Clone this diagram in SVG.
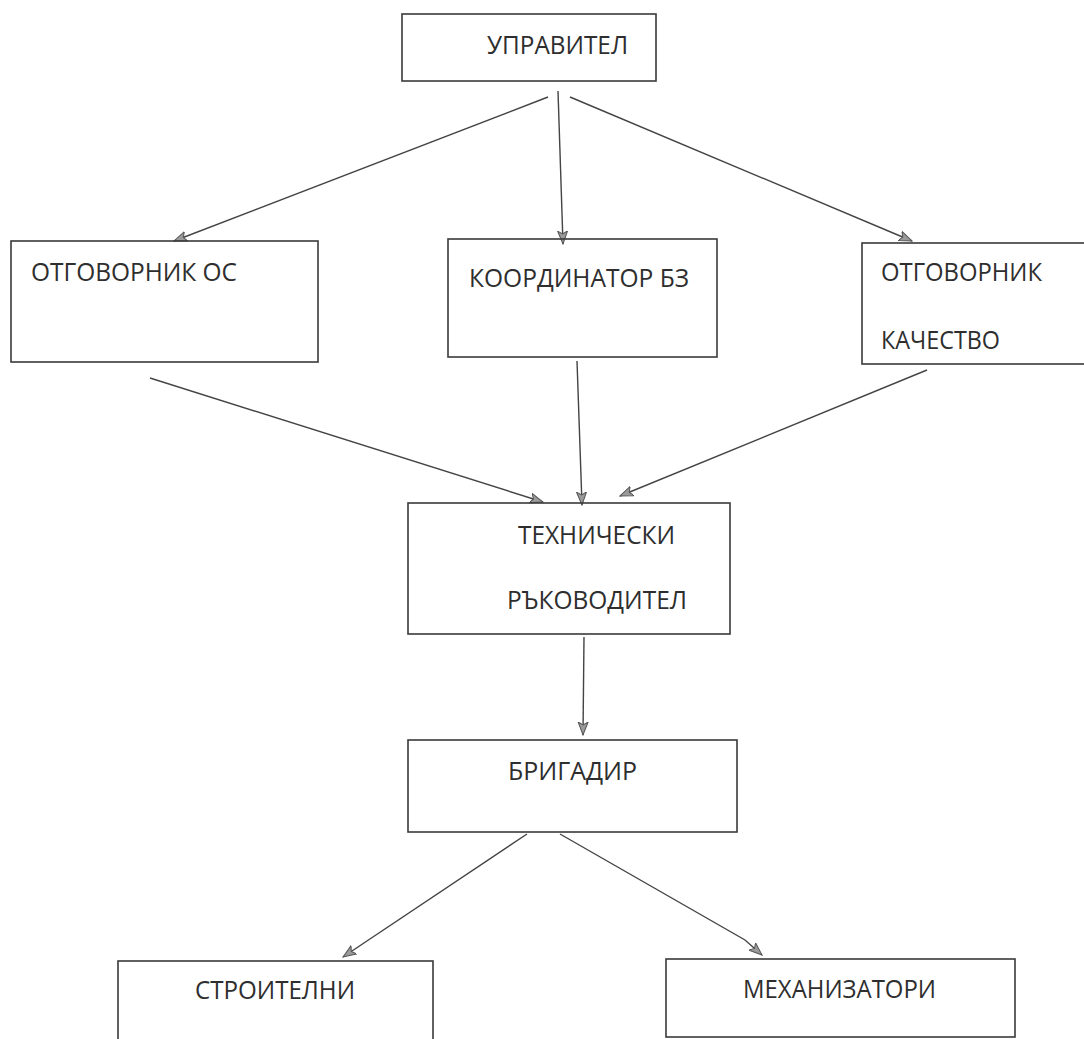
<svg xmlns="http://www.w3.org/2000/svg" width="1084" height="1039" viewBox="0 0 1084 1039">
<style>
.box{fill:none;stroke:#3a3a3a;stroke-width:1.6}
.lbl{font-family:"Open Sans","Noto Sans","Liberation Sans",sans-serif;font-size:26px;fill:#2e2e2e}
.con{fill:none;stroke:#444;stroke-width:1.4;marker-end:url(#ah)}
</style>
<defs>
<marker id="ah" markerUnits="userSpaceOnUse" markerWidth="14" markerHeight="12" refX="13" refY="5" orient="auto" viewBox="0 0 14 10">
<path d="M0,0 L13,5 L0,10 L3,5 z" fill="#9a9a9a" stroke="#555" stroke-width="1"/>
</marker>
</defs>
<rect width="1084" height="1039" fill="#ffffff"/>
<g id="connectors">
<line class="con" x1="548" y1="97" x2="174" y2="241"/>
<line class="con" x1="558" y1="91" x2="563" y2="244"/>
<line class="con" x1="570" y1="97" x2="912" y2="241"/>
<line class="con" x1="150" y1="378" x2="543" y2="502"/>
<line class="con" x1="577" y1="361" x2="582" y2="505"/>
<line class="con" x1="927" y1="370" x2="620" y2="496"/>
<line class="con" x1="584" y1="637" x2="583" y2="735"/>
<line class="con" x1="527" y1="834" x2="343" y2="957"/>
<path class="con" d="M560,834 L745,940 L762,955"/>
</g>
<g id="node-upravitel">
<rect class="box" x="402" y="14" width="254" height="67"/>
<text class="lbl" x="487" y="54" textLength="141" lengthAdjust="spacingAndGlyphs">УПРАВИТЕЛ</text>
</g>
<g id="node-otgovornik-os">
<rect class="box" x="11" y="241" width="307" height="121"/>
<text class="lbl" x="31" y="281" textLength="206" lengthAdjust="spacingAndGlyphs">ОТГОВОРНИК ОС</text>
</g>
<g id="node-koordinator">
<rect class="box" x="448" y="239" width="269" height="118"/>
<text class="lbl" x="469" y="287" textLength="220" lengthAdjust="spacingAndGlyphs">КООРДИНАТОР БЗ</text>
</g>
<g id="node-otgovornik-kachestvo">
<rect class="box" x="862" y="243" width="240" height="121"/>
<text class="lbl" x="881" y="281" textLength="161" lengthAdjust="spacingAndGlyphs">ОТГОВОРНИК</text>
<text class="lbl" x="881" y="349" textLength="119" lengthAdjust="spacingAndGlyphs">КАЧЕСТВО</text>
</g>
<g id="node-tehnicheski">
<rect class="box" x="408" y="503" width="322" height="131"/>
<text class="lbl" x="518" y="544" textLength="157" lengthAdjust="spacingAndGlyphs">ТЕХНИЧЕСКИ</text>
<text class="lbl" x="507" y="609" textLength="180" lengthAdjust="spacingAndGlyphs">РЪКОВОДИТЕЛ</text>
</g>
<g id="node-brigadir">
<rect class="box" x="408" y="740" width="329" height="92"/>
<text class="lbl" x="508" y="780" textLength="129" lengthAdjust="spacingAndGlyphs">БРИГАДИР</text>
</g>
<g id="node-stroitelni">
<rect class="box" x="118" y="961" width="315" height="100"/>
<text class="lbl" x="195" y="999" textLength="160" lengthAdjust="spacingAndGlyphs">СТРОИТЕЛНИ</text>
</g>
<g id="node-mehanizatori">
<rect class="box" x="666" y="959" width="349" height="78"/>
<text class="lbl" x="743" y="998" textLength="193" lengthAdjust="spacingAndGlyphs">МЕХАНИЗАТОРИ</text>
</g>
</svg>
